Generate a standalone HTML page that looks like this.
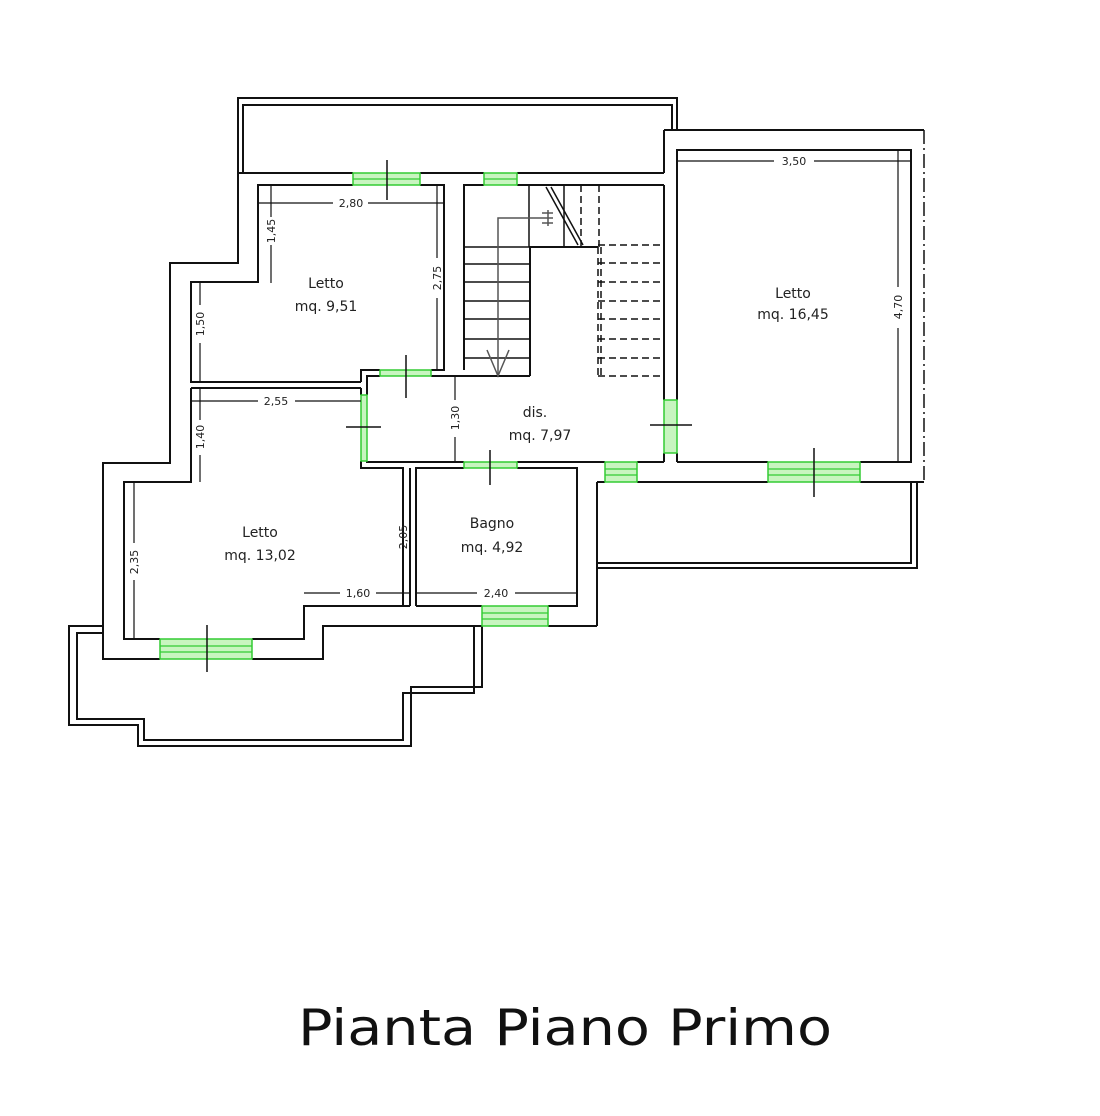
<!DOCTYPE html>
<html><head><meta charset="utf-8"><style>
html,body{margin:0;padding:0;background:#fff;}
svg{display:block}
text{font-family:"DejaVu Sans","Liberation Sans",sans-serif;fill:#222}
</style></head><body>
<svg width="1100" height="1116" viewBox="0 0 1100 1116" xmlns="http://www.w3.org/2000/svg">
<g fill="none" stroke="#111" stroke-width="2">
<!-- top balcony -->
<polyline points="238,173 238,98 677,98 677,130"/>
<polyline points="243,173 243,105 672,105 672,130"/>
<line x1="238" y1="173" x2="353" y2="173"/><line x1="420" y1="173" x2="484" y2="173"/><line x1="517" y1="173" x2="664" y2="173"/>
<line x1="664" y1="130" x2="664" y2="173"/>
<!-- right room outer -->
<polyline points="664,130 924,130"/>
<line x1="924" y1="130" x2="924" y2="482" stroke-dasharray="14,4,2,4" stroke-width="1.5"/>
<!-- right room inner -->
<polyline points="677,400 677,150 911,150 911,462 860,462"/>
<line x1="677" y1="453" x2="677" y2="462"/>
<line x1="677" y1="462" x2="768" y2="462"/>
<line x1="664" y1="185" x2="664" y2="400"/><line x1="664" y1="453" x2="664" y2="462"/>
<line x1="860" y1="482" x2="924" y2="482"/>
<line x1="637" y1="482" x2="768" y2="482"/>
<line x1="580" y1="462" x2="605" y2="462"/><line x1="637" y1="462" x2="664" y2="462"/>
<line x1="597" y1="482" x2="605" y2="482"/>
<!-- right bottom balcony -->
<polyline points="597,482 597,626"/>
<polyline points="597,568 917,568 917,482"/>
<polyline points="597,563 911,563 911,482"/>
<!-- letto 9.51 -->
<polyline points="238,173 238,263 170,263 170,463 103,463 103,659 160,659"/>
<polyline points="353,185 258,185 258,282 191,282 191,382 361,382"/>
<polyline points="420,185 444,185 444,370 431,370"/>
<polyline points="380,370 361,370 361,382"/>
<line x1="191" y1="388" x2="361" y2="388"/>
<polyline points="464,370 464,185 484,185"/><line x1="517" y1="185" x2="664" y2="185"/>
<line x1="444" y1="376" x2="530" y2="376"/>
<polyline points="367,395 367,376 380,376"/><line x1="431" y1="376" x2="444" y2="376"/>
<polyline points="361,388 361,395"/><polyline points="361,461 361,468 403,468 403,606"/>
<polyline points="367,461 367,462 464,462"/>
<line x1="410" y1="468" x2="410" y2="606"/>
<polyline points="517,462 580,462"/>
<!-- letto 13.02 -->
<polyline points="191,388 191,482 124,482 124,639 160,639"/>
<polyline points="252,639 304,639 304,606 410,606"/>
<polyline points="252,659 323,659 323,626 482,626"/>
<!-- bath -->
<polyline points="416,606 416,468 464,468"/>
<polyline points="517,468 577,468 577,606 548,606"/>
<line x1="416" y1="606" x2="482" y2="606"/>
<polyline points="548,626 597,626"/>
<!-- left balcony -->
<polyline points="103,626 69,626 69,725 138,725 138,746 411,746 411,687 482,687 482,626"/>
<polyline points="103,633 77,633 77,719 144,719 144,740 403,740 403,693 474,693 474,626"/>
<!-- stairs -->
<polyline points="530,376 530,247 598,247"/>
<g stroke-width="1.5">
<line x1="464" y1="264" x2="530" y2="264"/><line x1="464" y1="282" x2="530" y2="282"/>
<line x1="464" y1="301" x2="530" y2="301"/><line x1="464" y1="319" x2="530" y2="319"/>
<line x1="464" y1="339" x2="530" y2="339"/><line x1="464" y1="358" x2="530" y2="358"/>
<line x1="464" y1="247" x2="530" y2="247"/>
<line x1="529" y1="185" x2="529" y2="247"/><line x1="564" y1="185" x2="564" y2="247"/>
<line x1="546" y1="187" x2="578" y2="245"/><line x1="551" y1="187" x2="583" y2="245"/>
</g>
<g stroke-width="1.5" stroke-dasharray="7,4">
<line x1="581" y1="185" x2="581" y2="247"/><line x1="599" y1="185" x2="599" y2="247"/>
<line x1="598" y1="247" x2="598" y2="376"/><line x1="601" y1="247" x2="601" y2="376"/>
<line x1="598" y1="263" x2="664" y2="263"/><line x1="598" y1="282" x2="664" y2="282"/>
<line x1="598" y1="301" x2="664" y2="301"/><line x1="598" y1="319" x2="664" y2="319"/>
<line x1="598" y1="339" x2="664" y2="339"/><line x1="598" y1="358" x2="664" y2="358"/>
<line x1="598" y1="376" x2="664" y2="376"/><line x1="598" y1="245" x2="664" y2="245"/>
</g>
<g stroke="#555" stroke-width="1.5">
<polyline points="498,376 498,218 553,218"/>
<polyline points="487,350 498,376 509,350"/>
<line x1="542" y1="213" x2="553" y2="213"/><line x1="542" y1="223" x2="553" y2="223"/>
<line x1="548" y1="210" x2="548" y2="226"/>
</g>
</g>
<!-- green openings -->
<g fill="#c8f5c0" stroke="#3c3" stroke-width="1.5">
<rect x="353" y="173" width="67" height="12"/>
<rect x="484" y="173" width="33" height="12"/>
<rect x="380" y="370" width="51" height="6"/>
<rect x="361" y="395" width="6" height="66"/>
<rect x="464" y="462" width="53" height="6"/>
<rect x="664" y="400" width="13" height="53"/>
<rect x="605" y="462" width="32" height="20"/>
<rect x="768" y="462" width="92" height="20"/>
<rect x="160" y="639" width="92" height="20"/>
<rect x="482" y="606" width="66" height="20"/>
</g>
<g stroke="#3c3" stroke-width="1.2">
<line x1="353" y1="179" x2="420" y2="179"/><line x1="484" y1="179" x2="517" y2="179"/>
<line x1="605" y1="469" x2="637" y2="469"/><line x1="605" y1="475" x2="637" y2="475"/>
<line x1="768" y1="469" x2="860" y2="469"/><line x1="768" y1="475" x2="860" y2="475"/>
<line x1="160" y1="646" x2="252" y2="646"/><line x1="160" y1="652" x2="252" y2="652"/>
<line x1="482" y1="613" x2="548" y2="613"/><line x1="482" y1="619" x2="548" y2="619"/>
</g>
<g stroke="#111" stroke-width="1.5">
<line x1="387" y1="160" x2="387" y2="200"/>
<line x1="406" y1="355" x2="406" y2="398"/>
<line x1="346" y1="427" x2="381" y2="427"/>
<line x1="490" y1="450" x2="490" y2="485"/>
<line x1="650" y1="425" x2="692" y2="425"/>
<line x1="814" y1="448" x2="814" y2="497"/>
<line x1="207" y1="625" x2="207" y2="672"/>
</g>
<!-- dimension lines -->
<g stroke="#111" stroke-width="1.2">
<line x1="258" y1="203" x2="333" y2="203"/><line x1="368" y1="203" x2="444" y2="203"/>
<line x1="271" y1="185" x2="271" y2="217"/><line x1="271" y1="245" x2="271" y2="283"/>
<line x1="437" y1="185" x2="437" y2="258"/><line x1="437" y1="298" x2="437" y2="370"/>
<line x1="200" y1="282" x2="200" y2="305"/><line x1="200" y1="343" x2="200" y2="382"/>
<line x1="191" y1="401" x2="258" y2="401"/><line x1="295" y1="401" x2="361" y2="401"/>
<line x1="200" y1="388" x2="200" y2="420"/><line x1="200" y1="455" x2="200" y2="482"/>
<line x1="455" y1="376" x2="455" y2="400"/><line x1="455" y1="437" x2="455" y2="461"/>
<line x1="134" y1="482" x2="134" y2="543"/><line x1="134" y1="580" x2="134" y2="639"/>
<line x1="403" y1="468" x2="403" y2="518"/><line x1="403" y1="556" x2="403" y2="606"/>
<line x1="304" y1="593" x2="340" y2="593"/><line x1="376" y1="593" x2="410" y2="593"/>
<line x1="416" y1="593" x2="477" y2="593"/><line x1="515" y1="593" x2="577" y2="593"/>
<line x1="677" y1="161" x2="774" y2="161"/><line x1="814" y1="161" x2="911" y2="161"/>
<line x1="898" y1="150" x2="898" y2="287"/><line x1="898" y1="328" x2="898" y2="462"/>
</g>
<g font-size="11">
<text x="351" y="207" text-anchor="middle">2,80</text>
<text x="276" y="405" text-anchor="middle">2,55</text>
<text x="358" y="597" text-anchor="middle">1,60</text>
<text x="496" y="597" text-anchor="middle">2,40</text>
<text x="794" y="165" text-anchor="middle">3,50</text>
<text transform="translate(275,231) rotate(-90)" text-anchor="middle">1,45</text>
<text transform="translate(441,278) rotate(-90)" text-anchor="middle">2,75</text>
<text transform="translate(204,324) rotate(-90)" text-anchor="middle">1,50</text>
<text transform="translate(204,437) rotate(-90)" text-anchor="middle">1,40</text>
<text transform="translate(459,418) rotate(-90)" text-anchor="middle">1,30</text>
<text transform="translate(138,562) rotate(-90)" text-anchor="middle">2,35</text>
<text transform="translate(407,537) rotate(-90)" text-anchor="middle">2,05</text>
<text transform="translate(902,307) rotate(-90)" text-anchor="middle">4,70</text>
</g>
<g font-size="14" text-anchor="middle">
<text x="326" y="288">Letto</text><text x="326" y="311">mq. 9,51</text>
<text x="535" y="417">dis.</text><text x="540" y="440">mq. 7,97</text>
<text x="260" y="537">Letto</text><text x="260" y="560">mq. 13,02</text>
<text x="492" y="528">Bagno</text><text x="492" y="552">mq. 4,92</text>
<text x="793" y="298">Letto</text><text x="793" y="319">mq. 16,45</text>
</g>
<text x="298" y="1045" font-size="50" textLength="534" lengthAdjust="spacingAndGlyphs" style="fill:#111">Pianta Piano Primo</text>
</svg>
</body></html>
